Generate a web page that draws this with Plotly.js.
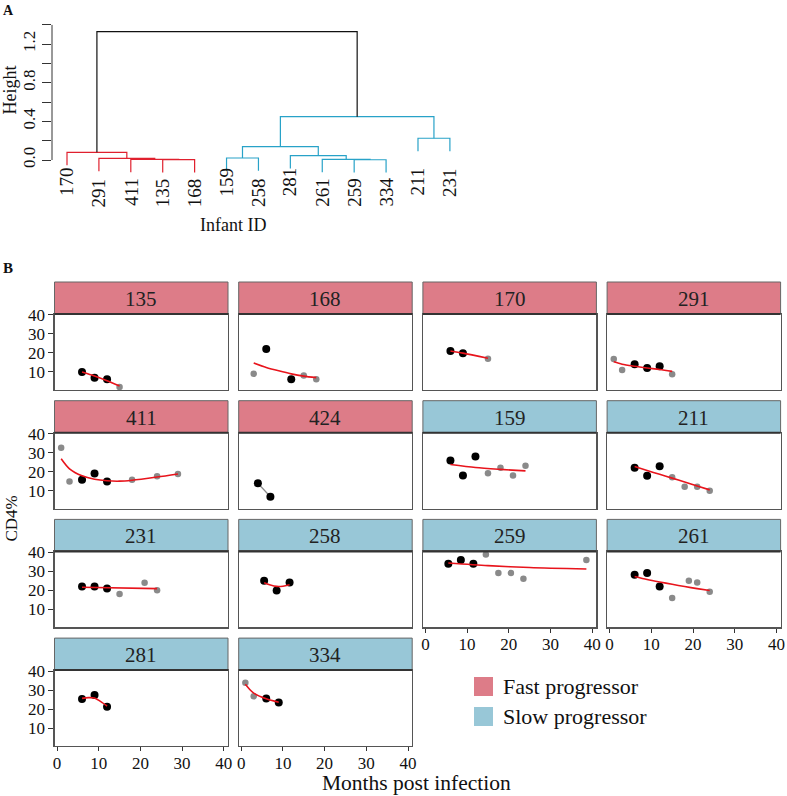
<!DOCTYPE html>
<html><head><meta charset="utf-8">
<script src="https://cdn.plot.ly/plotly-3.0.1.min.js"></script>
<style>html,body{margin:0;padding:0;background:#fff}</style>
</head><body><div id="chart" style="width:787px;height:796px"></div>
<script>
// ---------- Panel A: dendrogram data ----------
const leafLabels = ['170','291','411','135','168','159','258','281','261','259','334','211','231'];
// label drawn on the lower of two text rows (as in the reference)
const leafLabelLow = [0, 1, 1, 1, 1, 0, 1, 0, 1, 1, 1, 0, 0];
// hclust-style merges: negative = leaf (1-based position in leafLabels), positive = earlier merge
const mergeA = [-4, -3, -2, -1, -10, -9, -8, -6, 8, -12, 9, 4];
const mergeB = [-5,  1,  2,  3, -11,  5,  6, -7, 7, -13, 10, 11];
const mergeHeight = [0.004, 0.006, 0.017, 0.080, 0.003, 0.006, 0.045, 0.021, 0.138, 0.225, 0.448, 1.329];
const mergeGroup = ['fast','fast','fast','fast','slow','slow','slow','slow','slow','slow','slow','root'];
const leafHang = 0.133;
const heightTicks = [0, 0.2, 0.4, 0.6, 0.8, 1.0, 1.2, 1.4];
const heightTickText = ['0.0', '', '0.4', '', '0.8', '', '1.2', ''];

// ---------- Panel B: CD4% data ----------
const infantIds  = ['135','168','170','291','411','424','159','211','231','258','259','261','281','334'];
const progressor = ['Fast','Fast','Fast','Fast','Fast','Fast','Slow','Slow','Slow','Slow','Slow','Slow','Slow','Slow'];
const pointMonths = [
  [6, 9, 12, 15],
  [3, 6, 12, 15, 18],
  [6, 9, 15],
  [1, 3, 6, 9, 12, 15],
  [1, 3, 6, 9, 12, 18, 24, 29],
  [4, 7],
  [6, 9, 12, 15, 18, 21, 24],
  [6, 9, 12, 15, 18, 21, 24],
  [6, 9, 12, 15, 21, 24],
  [5.5, 8.5, 11.6],
  [5.5, 8.5, 11.5, 14.5, 17.5, 20.5, 23.5, 38.6],
  [6, 9, 12, 15, 19, 21, 24],
  [6, 9, 12],
  [1, 3, 6, 9]
];
const pointCD4 = [
  [10, 7, 6.1, 2.1],
  [9, 22.1, 6.1, 8.1, 6.1],
  [21, 19.8, 17],
  [16.8, 11, 14, 12.1, 13, 8.8],
  [32.6, 14.8, 15.7, 19, 14.8, 15.8, 17.6, 18.8],
  [13.9, 6.8],
  [25.9, 18, 28, 19.2, 22, 18, 23.1],
  [22, 17.8, 22.9, 17.1, 12, 12, 10],
  [22, 22, 21, 18.1, 24, 20.1],
  [25, 19.9, 24.1],
  [34, 36, 34, 38.9, 29.1, 29.1, 26.1, 36],
  [28.2, 29.1, 22, 16, 25, 24.1, 19.2],
  [25.3, 27.4, 21.2],
  [33.8, 26.7, 25.6, 23.5]
];
// 1 = black point, 0 = grey point
const pointUsed = [
  [1,1,1,0],
  [0,1,1,0,0],
  [1,1,0],
  [0,0,1,1,1,0],
  [0,0,1,1,1,0,0,0],
  [1,1],
  [1,1,1,0,0,0,0],
  [1,1,1,0,0,0,0],
  [1,1,1,0,0,0],
  [1,1,1],
  [1,1,1,0,0,0,0,0],
  [1,1,1,0,0,0,0],
  [1,1,1],
  [0,0,1,1]
];
const fitMonths = [
  [6, 9, 12, 15],
  [3, 6, 9, 12, 15, 18],
  [6, 9, 15],
  [1, 3, 6, 9, 12, 15],
  [1, 3, 6, 9, 12, 15, 18, 24, 29],
  [],
  [6, 12, 18, 24],
  [6, 9, 12, 15, 18, 21, 24],
  [6, 24],
  [5.5, 7, 8.5, 10, 11.6],
  [5.5, 15, 25, 38.6],
  [6, 9, 12, 15, 18, 21, 24],
  [6, 7.5, 9, 10.5, 12],
  [1, 2, 3, 6, 9]
];
const fitCD4 = [
  [10.0, 7.9, 5.4, 2.6],
  [14.7, 12.4, 10.6, 9.0, 7.8, 7.0],
  [21.0, 19.9, 17.2],
  [15.4, 14.1, 13.0, 12.1, 11.3, 10.3],
  [26.8, 21.5, 17.8, 16.0, 15.2, 15.0, 15.5, 17.2, 18.8],
  [],
  [23.8, 22.2, 21.2, 20.4],
  [22.7, 20.6, 18.6, 16.6, 14.5, 12.4, 10.4],
  [21.6, 20.9],
  [24.0, 22.8, 22.1, 22.2, 22.9],
  [34.4, 33.0, 32.0, 31.2],
  [27.3, 25.7, 24.4, 23.2, 22.0, 20.9, 19.9],
  [25.6, 26.0, 25.8, 23.9, 21.6],
  [33.0, 30.4, 28.4, 25.4, 23.6]
];
const cd4Ticks = [10, 20, 30, 40];
const monthTicks = [0, 10, 20, 30, 40];
const legendLabels = ['Fast progressor', 'Slow progressor'];

// ---------- styling ----------
const FONT = 'Liberation Serif, Times New Roman, serif';
const stripColor = {Fast: '#dd7c88', Slow: '#98c7d7'};
const dendroColor = {fast: '#e0202e', slow: '#28a2c8', root: '#111111'};
const W = 787, H = 796;
const px = x => x / W, py = y => 1 - y / H;

const data = [];
const layout = {
  width: W, height: H, margin: {l: 0, r: 0, t: 0, b: 0},
  paper_bgcolor: '#fff', plot_bgcolor: 'rgba(0,0,0,0)',
  showlegend: false, font: {family: FONT, color: '#111'},
  shapes: [], annotations: []
};

// ---------- dendrogram ----------
const nodeX = [], nodeH = [];
function childPos(c, h) { return c < 0 ? [-c, h - leafHang] : [nodeX[c - 1], nodeH[c - 1]]; }
const segs = {fast: {x: [], y: []}, slow: {x: [], y: []}, root: {x: [], y: []}};
for (let m = 0; m < mergeHeight.length; m++) {
  const h = mergeHeight[m];
  const [xa, ha] = childPos(mergeA[m], h);
  const [xb, hb] = childPos(mergeB[m], h);
  nodeX[m] = (xa + xb) / 2; nodeH[m] = h;
  const s = segs[mergeGroup[m]];
  s.x.push(xa, xa, xb, xb, null); s.y.push(ha, h, h, hb, null);
}
for (const g of ['fast', 'slow', 'root']) {
  data.push({x: segs[g].x, y: segs[g].y, xaxis: 'x', yaxis: 'y', type: 'scatter', mode: 'lines',
    line: {color: dendroColor[g], width: 1.2}, hoverinfo: 'skip'});
}
layout.xaxis = {domain: [px(52), px(470)], range: [0.53, 13.63], anchor: 'y',
  showticklabels: false, ticks: '', showline: false, showgrid: false, zeroline: false};
layout.yaxis = {domain: [py(175), py(24.7)], range: [-0.155, 1.4], anchor: 'x',
  tickvals: heightTicks, ticktext: heightTickText, tickangle: -90, ticks: 'outside', ticklen: 9,
  tickcolor: '#333', tickwidth: 1, showline: false,
  showgrid: false, zeroline: false, tickfont: {family: FONT, size: 17, color: '#111'}};
// axis line spanning the tick range only
layout.shapes.push({type: 'line', xref: 'paper', yref: 'y', x0: px(52), x1: px(52),
  y0: heightTicks[0], y1: heightTicks[heightTicks.length - 1], line: {color: '#333', width: 1}});
leafLabels.forEach((lab, i) => {
  layout.annotations.push({xref: 'x', yref: 'paper', x: i + 1, y: py(leafLabelLow[i] ? 176 : 165.5),
    text: lab, textangle: -90, showarrow: false, xanchor: 'center', yanchor: 'top',
    font: {family: FONT, size: 19, color: '#111'}});
});

// ---------- facet panels ----------
const colLeft0 = 54.5, colStep = 184.2, panelW = 173.5;
const rowTop0 = 282, rowStep = 118.7, stripH = 32, panelH = 76;
const nPanels = infantIds.length;
for (let k = 0; k < nPanels; k++) {
  const r = Math.floor(k / 4), c = k % 4;
  const ax = k + 2;
  const left = colLeft0 + c * colStep, right = left + panelW;
  const sTop = rowTop0 + r * rowStep, pTop = sTop + stripH, pBot = pTop + panelH;
  const showX = (k + 4) >= nPanels;
  const showY = c === 0;
  layout['xaxis' + ax] = {domain: [px(left), px(right)], range: [-0.6, 41.0], anchor: 'y' + ax,
    tickvals: monthTicks, showticklabels: showX, ticks: showX ? 'outside' : '', ticklen: 4,
    ticklabelstandoff: -3,
    tickcolor: '#333', showline: true, mirror: true, linecolor: '#555', linewidth: 1.2,
    showgrid: false, zeroline: false, tickfont: {family: FONT, size: 17, color: '#111'}};
  layout['yaxis' + ax] = {domain: [py(pBot), py(pTop)], range: [0.5, 40.5], anchor: 'x' + ax,
    tickvals: cd4Ticks, showticklabels: showY, ticks: showY ? 'outside' : '', ticklen: 5,
    tickcolor: '#333', showline: true, mirror: true, linecolor: '#555', linewidth: 1.2,
    showgrid: false, zeroline: false, tickfont: {family: FONT, size: 17, color: '#111'}};
  // strip
  layout.shapes.push({type: 'rect', xref: 'paper', yref: 'paper', x0: px(left), x1: px(right),
    y0: py(pTop), y1: py(sTop), fillcolor: stripColor[progressor[k]], line: {color: '#666', width: 1}, layer: 'below'});
  layout.shapes.push({type: 'line', xref: 'paper', yref: 'paper', x0: px(left), x1: px(right),
    y0: py(pTop), y1: py(pTop), line: {color: '#333', width: 2}});
  layout.annotations.push({xref: 'paper', yref: 'paper', x: px((left + right) / 2), y: py(sTop + stripH / 2 + 1),
    text: infantIds[k], showarrow: false, xanchor: 'center', yanchor: 'middle',
    font: {family: FONT, size: 21, color: '#222'}});

  const xs = pointMonths[k], ys = pointCD4[k], used = pointUsed[k];
  if (fitMonths[k].length === 0) {
    data.push({x: xs, y: ys, xaxis: 'x' + ax, yaxis: 'y' + ax, type: 'scatter', mode: 'lines',
      line: {color: '#888', width: 1.2}, hoverinfo: 'skip'});
  }
  const gx = [], gy = [], bx = [], by = [];
  xs.forEach((v, i) => { if (used[i]) { bx.push(v); by.push(ys[i]); } else { gx.push(v); gy.push(ys[i]); } });
  data.push({x: gx, y: gy, xaxis: 'x' + ax, yaxis: 'y' + ax, type: 'scatter', mode: 'markers',
    marker: {color: '#8a8a8a', size: 6.5}, cliponaxis: false, hoverinfo: 'skip'});
  data.push({x: bx, y: by, xaxis: 'x' + ax, yaxis: 'y' + ax, type: 'scatter', mode: 'markers',
    marker: {color: '#000', size: 8}, cliponaxis: false, hoverinfo: 'skip'});
  if (fitMonths[k].length) {
    data.push({x: fitMonths[k], y: fitCD4[k], xaxis: 'x' + ax, yaxis: 'y' + ax, type: 'scatter',
      mode: 'lines', line: {color: '#e8141c', width: 1.6, shape: 'spline', smoothing: 0.8}, hoverinfo: 'skip'});
  }
}

// ---------- legend ----------
const legendColors = [stripColor.Fast, stripColor.Slow];
const legendY = [686.5, 716.5];
legendLabels.forEach((t, i) => {
  layout.shapes.push({type: 'rect', xref: 'paper', yref: 'paper', x0: px(474), x1: px(493),
    y0: py(legendY[i] + 9.5), y1: py(legendY[i] - 9.5), fillcolor: legendColors[i], line: {width: 0}});
  layout.annotations.push({xref: 'paper', yref: 'paper', x: px(501), y: py(legendY[i]), text: t,
    showarrow: false, xanchor: 'left', yanchor: 'middle', font: {family: FONT, size: 22, color: '#111'}});
});

// ---------- titles / panel letters ----------
const ann = (text, x, y, size, extra) => layout.annotations.push(Object.assign({xref: 'paper', yref: 'paper',
  x: px(x), y: py(y), text, showarrow: false, xanchor: 'center', yanchor: 'middle',
  font: {family: FONT, size, color: '#111'}}, extra || {}));
ann('<b>A</b>', 8, 10, 14);
ann('<b>B</b>', 8, 268, 15);
ann('Infant ID', 233.5, 225, 18);
ann('Height', 9.5, 90, 18, {textangle: -90});
ann('CD4%', 10.5, 519, 17, {textangle: -90});
ann('Months post infection', 416.5, 782.5, 21.5, {borderpad: 0});

Plotly.newPlot('chart', data, layout, {displayModeBar: false, staticPlot: true});
</script></body></html>
